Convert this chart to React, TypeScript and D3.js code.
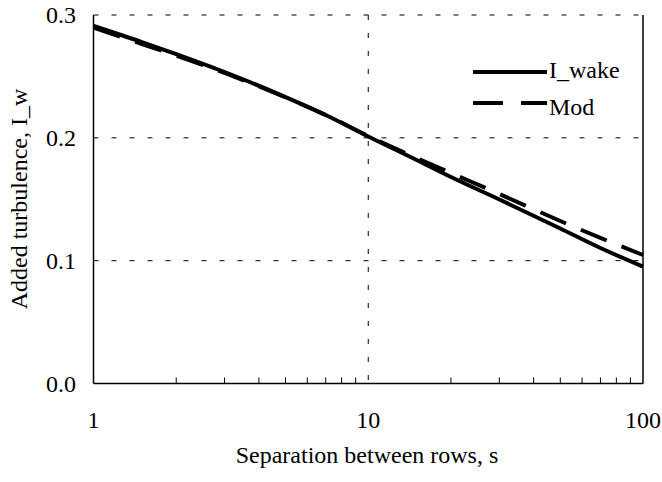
import * as d3 from 'd3';
import React from 'react';

// values
const separation = [1, 1.5, 2, 3, 5, 7, 10, 15, 20, 30, 50, 70, 100];
const iWake = [0.2911, 0.278, 0.2682, 0.2536, 0.2332, 0.2186, 0.2011, 0.182, 0.1681, 0.1498, 0.1262, 0.1103, 0.0952];
const iMod = [0.2898, 0.2764, 0.267, 0.2528, 0.2329, 0.2186, 0.2015, 0.1836, 0.1714, 0.1543, 0.1323, 0.1185, 0.1046];
const xTicks = [1, 10, 100];
const yTicks = [0, 0.1, 0.2, 0.3];
const seriesNames = ['I_wake', 'Mod'];

const W = 662;
const H = 482;
const left = 93.5;
const right = 643;
const top = 15;
const bottom = 383.5;
const font = '"Liberation Serif", "Times New Roman", serif';
const fs = 24;
const gridDash = '5 13';

export default function App() {
    const x = d3.scaleLog().domain([1, 100]).range([left, right]);
    const y = d3.scaleLinear().domain([0, 0.3]).range([bottom, top]);

    const line = d3.line<number>()
        .x((d, i) => x(separation[i]))
        .y(d => y(d))
        .curve(d3.curveMonotoneX);

    // minor ticks 2..9 of each decade
    const minor: number[] = [];
    [1, 10].forEach(dec => {
        for (let k = 2; k <= 9; k++) minor.push(dec * k);
    });

    return (
        <svg width={W} height={H} style={{ position: 'absolute', left: 0, top: 0 }}
            fontFamily={font} fontSize={fs}>
            <rect width={W} height={H} fill="#fff" />
            {/* horizontal grid */}
            {yTicks.filter(t => t > 0).map(t => (
                <line key={'gy' + t} x1={left} x2={right} y1={y(t)} y2={y(t)}
                    stroke="#000" strokeWidth={1} strokeDasharray={gridDash} />
            ))}
            {/* vertical grid at 10 */}
            <line x1={x(10)} x2={x(10)} y1={top} y2={bottom}
                stroke="#000" strokeWidth={1} strokeDasharray={gridDash} />
            {/* minor ticks */}
            {minor.map(m => (
                <line key={'m' + m} x1={x(m)} x2={x(m)} y1={bottom} y2={bottom - 6}
                    stroke="#000" strokeWidth={1} />
            ))}
            {/* axes */}
            <line x1={left} x2={left} y1={top} y2={bottom} stroke="#000" strokeWidth={1.5} />
            <line x1={left} x2={right} y1={bottom} y2={bottom} stroke="#000" strokeWidth={1.5} />
            <line x1={right} x2={right} y1={top} y2={bottom} stroke="#000" strokeWidth={1.5} />

            {/* series */}
            <path d={line(iMod) || ''} fill="none" stroke="#000" strokeWidth={4}
                strokeDasharray="28 16" />
            <path d={line(iWake) || ''} fill="none" stroke="#000" strokeWidth={4} />

            {/* y tick labels */}
            {yTicks.map(t => (
                <text key={'yl' + t} x={76} y={y(t) + 8} textAnchor="end">{t.toFixed(1)}</text>
            ))}
            {/* x tick labels */}
            {xTicks.map(t => (
                <text key={'xl' + t} x={x(t)} y={428} textAnchor="middle">{t}</text>
            ))}

            {/* axis titles */}
            <text x={367} y={463} textAnchor="middle">Separation between rows, s</text>
            <text transform={`translate(27,199) rotate(-90)`} textAnchor="middle">Added turbulence, I_w</text>

            {/* legend */}
            <line x1={473} x2={547} y1={72} y2={72} stroke="#000" strokeWidth={4} />
            <text x={549} y={78}>{seriesNames[0]}</text>
            <line x1={473} x2={547} y1={103} y2={103} stroke="#000" strokeWidth={4}
                strokeDasharray="30 18" />
            <text x={549} y={115}>{seriesNames[1]}</text>
        </svg>
    );
}
